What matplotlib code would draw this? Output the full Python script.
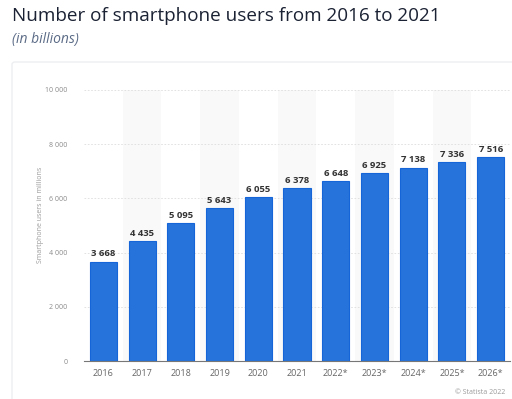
import matplotlib.pyplot as plt
from matplotlib.patches import FancyBboxPatch

years = ['2016', '2017', '2018', '2019', '2020', '2021',
         '2022*', '2023*', '2024*', '2025*', '2026*']
users = [3668, 4435, 5095, 5643, 6055, 6378, 6648, 6925, 7138, 7336, 7516]
yticks = [0, 2000, 4000, 6000, 8000, 10000]

def fmt(v):
    return '{:,}'.format(v).replace(',', ' ')

plt.rcParams['font.family'] = ['Open Sans', 'DejaVu Sans']

fig = plt.figure(figsize=(5.12, 3.99), dpi=100)
fig.patch.set_facecolor('white')

# card behind the chart
card = FancyBboxPatch((12 / 512, -0.05), 1.2, (399 - 62) / 399 + 0.05,
                      boxstyle='round,pad=0,rounding_size=0.006',
                      transform=fig.transFigure, facecolor='white',
                      edgecolor='#eceef1', linewidth=1.0, zorder=-10)
fig.patches.append(card)

fig.text(12 / 512, 1 - 16 / 399, 'Number of smartphone users from 2016 to 2021',
         fontsize=13.6, color='#1b2233', va='center', ha='left')
fig.text(12 / 512, 1 - 40 / 399, '(in billions)', fontsize=10, style='italic',
         color='#5b6b86', va='center', ha='left')

ax = fig.add_axes([84 / 512, 1 - 361 / 399, (510 - 84) / 512, (361 - 90) / 399])
ax.set_facecolor('none')
ax.set_zorder(1)

x = list(range(len(years)))
for i in x:
    if i % 2 == 1:
        ax.axvspan(i - 0.5, i + 0.5, color='#f9f9f9', zorder=0, lw=0)

ax.set_ylim(0, 10000)
ax.set_xlim(-0.5, len(years) - 0.5)
ax.set_yticks(yticks)
ax.set_yticklabels([fmt(v) for v in yticks], fontsize=5, color='#8a8a8a')
ax.yaxis.grid(True, linestyle=(0, (2, 2)), color='#dddddd', linewidth=0.6, zorder=1)
ax.set_axisbelow(True)

bars = ax.bar(x, users, width=0.7, color='#2673dc', edgecolor='#1565d8',
              linewidth=0.8, zorder=2)
for xi, v in zip(x, users):
    ax.text(xi, v + 120, fmt(v), ha='center', va='bottom', fontsize=6.8,
            fontweight='bold', color='#333333', zorder=3)

ax.set_xticks(x)
ax.set_xticklabels(years, fontsize=6.5, color='#666666')
ax.tick_params(axis='both', length=0, pad=6)
ax.tick_params(axis='y', pad=12)
for s in ['top', 'right', 'left']:
    ax.spines[s].set_visible(False)
ax.spines['bottom'].set_color('#777777')
ax.spines['bottom'].set_linewidth(0.8)

fig.text(41 / 512, 1 - 215 / 399, 'Smartphone users in millions', rotation=90,
         fontsize=5, color='#9a9a9a', ha='center', va='center')
fig.text(505 / 512, 1 - 393 / 399, '© Statista 2022', fontsize=5,
         color='#999999', ha='right', va='center')

fig.savefig('out.png', dpi=100)
